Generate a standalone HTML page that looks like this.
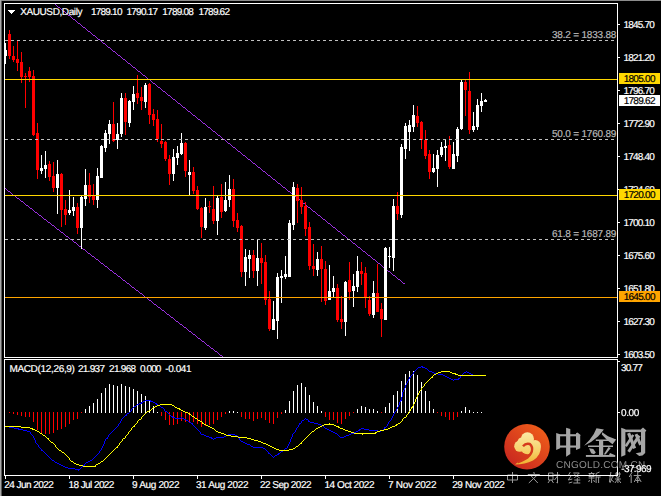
<!DOCTYPE html>
<html><head><meta charset="utf-8"><style>
html,body{margin:0;padding:0;background:#000;width:661px;height:496px;overflow:hidden}
#root{position:relative;width:661px;height:496px;background:#000}
svg.main{position:absolute;left:0;top:0}
.t{position:absolute;font-family:"Liberation Sans",sans-serif;font-size:10px;line-height:14px;color:#fff;white-space:nowrap;letter-spacing:-0.4px;-webkit-text-stroke:0.2px currentColor;text-rendering:geometricPrecision}
.fib{color:#b8b8b8}
.tb{position:absolute;font-family:"Liberation Sans",sans-serif;font-size:10px;line-height:14px;color:#000;white-space:nowrap;-webkit-text-stroke:0.2px currentColor;text-rendering:geometricPrecision}
.box{position:absolute;font-family:"Liberation Sans",sans-serif;font-size:10px;line-height:14px;height:11px;width:41px;text-indent:3px;white-space:nowrap;letter-spacing:-0.4px}
</style></head><body><div id="root">
<svg class="main" width="661" height="496" viewBox="0 0 661 496" shape-rendering="crispEdges"><rect x="0" y="0" width="661" height="1" fill="#8c8c8c"/><rect x="0" y="0" width="1" height="496" fill="#a8a8a8"/><rect x="1" y="1" width="1" height="495" fill="#5a5a5a"/><svg x="5" y="4" width="612" height="353" viewBox="5 4 612 353" overflow="hidden"><path d="M0 -39h1v1h-1zM1 -38h1v1h-1zM2 -37h1v1h-1zM3 -36h2v1h-2zM5 -35h1v1h-1zM6 -34h1v1h-1zM7 -33h1v1h-1zM8 -32h2v1h-2zM10 -31h1v1h-1zM11 -30h1v1h-1zM12 -29h1v1h-1zM13 -28h2v1h-2zM15 -27h1v1h-1zM16 -26h1v1h-1zM17 -25h1v1h-1zM18 -24h2v1h-2zM20 -23h1v1h-1zM21 -22h1v1h-1zM22 -21h1v1h-1zM23 -20h2v1h-2zM25 -19h1v1h-1zM26 -18h1v1h-1zM27 -17h1v1h-1zM28 -16h2v1h-2zM30 -15h1v1h-1zM31 -14h1v1h-1zM32 -13h1v1h-1zM33 -12h2v1h-2zM35 -11h1v1h-1zM36 -10h1v1h-1zM37 -9h1v1h-1zM38 -8h2v1h-2zM40 -7h1v1h-1zM41 -6h1v1h-1zM42 -5h1v1h-1zM43 -4h2v1h-2zM45 -3h1v1h-1zM46 -2h1v1h-1zM47 -1h1v1h-1zM48 0h3v1h-3zM51 1h1v1h-1zM52 2h1v1h-1zM53 3h2v1h-2zM55 4h1v1h-1zM56 5h1v1h-1zM57 6h1v1h-1zM58 7h2v1h-2zM60 8h1v1h-1zM61 9h1v1h-1zM62 10h1v1h-1zM63 11h2v1h-2zM65 12h1v1h-1zM66 13h1v1h-1zM67 14h1v1h-1zM68 15h2v1h-2zM70 16h1v1h-1zM71 17h1v1h-1zM72 18h1v1h-1zM73 19h2v1h-2zM75 20h1v1h-1zM76 21h1v1h-1zM77 22h1v1h-1zM78 23h2v1h-2zM80 24h1v1h-1zM81 25h1v1h-1zM82 26h1v1h-1zM83 27h2v1h-2zM85 28h1v1h-1zM86 29h1v1h-1zM87 30h1v1h-1zM88 31h2v1h-2zM90 32h1v1h-1zM91 33h1v1h-1zM92 34h1v1h-1zM93 35h2v1h-2zM95 36h1v1h-1zM96 37h1v1h-1zM97 38h1v1h-1zM98 39h2v1h-2zM100 40h1v1h-1zM101 41h1v1h-1zM102 42h1v1h-1zM103 43h2v1h-2zM105 44h1v1h-1zM106 45h1v1h-1zM107 46h1v1h-1zM108 47h2v1h-2zM110 48h1v1h-1zM111 49h1v1h-1zM112 50h1v1h-1zM113 51h2v1h-2zM115 52h1v1h-1zM116 53h1v1h-1zM117 54h1v1h-1zM118 55h2v1h-2zM120 56h1v1h-1zM121 57h1v1h-1zM122 58h1v1h-1zM123 59h2v1h-2zM125 60h1v1h-1zM126 61h1v1h-1zM127 62h1v1h-1zM128 63h2v1h-2zM130 64h1v1h-1zM131 65h1v1h-1zM132 66h1v1h-1zM133 67h2v1h-2zM135 68h1v1h-1zM136 69h1v1h-1zM137 70h1v1h-1zM138 71h2v1h-2zM140 72h1v1h-1zM141 73h1v1h-1zM142 74h1v1h-1zM143 75h2v1h-2zM145 76h1v1h-1zM146 77h1v1h-1zM147 78h1v1h-1zM148 79h2v1h-2zM150 80h1v1h-1zM151 81h1v1h-1zM152 82h1v1h-1zM153 83h2v1h-2zM155 84h1v1h-1zM156 85h1v1h-1zM157 86h1v1h-1zM158 87h2v1h-2zM160 88h1v1h-1zM161 89h1v1h-1zM162 90h1v1h-1zM163 91h2v1h-2zM165 92h1v1h-1zM166 93h1v1h-1zM167 94h1v1h-1zM168 95h2v1h-2zM170 96h1v1h-1zM171 97h1v1h-1zM172 98h1v1h-1zM173 99h2v1h-2zM175 100h1v1h-1zM176 101h1v1h-1zM177 102h1v1h-1zM178 103h2v1h-2zM180 104h1v1h-1zM181 105h1v1h-1zM182 106h1v1h-1zM183 107h2v1h-2zM185 108h1v1h-1zM186 109h1v1h-1zM187 110h1v1h-1zM188 111h2v1h-2zM190 112h1v1h-1zM191 113h1v1h-1zM192 114h1v1h-1zM193 115h2v1h-2zM195 116h1v1h-1zM196 117h1v1h-1zM197 118h1v1h-1zM198 119h2v1h-2zM200 120h1v1h-1zM201 121h1v1h-1zM202 122h1v1h-1zM203 123h2v1h-2zM205 124h1v1h-1zM206 125h1v1h-1zM207 126h1v1h-1zM208 127h2v1h-2zM210 128h1v1h-1zM211 129h1v1h-1zM212 130h1v1h-1zM213 131h2v1h-2zM215 132h1v1h-1zM216 133h1v1h-1zM217 134h1v1h-1zM218 135h2v1h-2zM220 136h1v1h-1zM221 137h1v1h-1zM222 138h1v1h-1zM223 139h2v1h-2zM225 140h1v1h-1zM226 141h1v1h-1zM227 142h1v1h-1zM228 143h2v1h-2zM230 144h1v1h-1zM231 145h1v1h-1zM232 146h1v1h-1zM233 147h2v1h-2zM235 148h1v1h-1zM236 149h1v1h-1zM237 150h1v1h-1zM238 151h2v1h-2zM240 152h1v1h-1zM241 153h1v1h-1zM242 154h1v1h-1zM243 155h2v1h-2zM245 156h1v1h-1zM246 157h1v1h-1zM247 158h1v1h-1zM248 159h2v1h-2zM250 160h1v1h-1zM251 161h1v1h-1zM252 162h1v1h-1zM253 163h2v1h-2zM255 164h1v1h-1zM256 165h1v1h-1zM257 166h1v1h-1zM258 167h2v1h-2zM260 168h1v1h-1zM261 169h1v1h-1zM262 170h1v1h-1zM263 171h2v1h-2zM265 172h1v1h-1zM266 173h1v1h-1zM267 174h1v1h-1zM268 175h2v1h-2zM270 176h1v1h-1zM271 177h1v1h-1zM272 178h1v1h-1zM273 179h2v1h-2zM275 180h1v1h-1zM276 181h1v1h-1zM277 182h1v1h-1zM278 183h2v1h-2zM280 184h1v1h-1zM281 185h1v1h-1zM282 186h1v1h-1zM283 187h2v1h-2zM285 188h1v1h-1zM286 189h1v1h-1zM287 190h1v1h-1zM288 191h2v1h-2zM290 192h1v1h-1zM291 193h1v1h-1zM292 194h1v1h-1zM293 195h2v1h-2zM295 196h1v1h-1zM296 197h1v1h-1zM297 198h1v1h-1zM298 199h2v1h-2zM300 200h1v1h-1zM301 201h1v1h-1zM302 202h1v1h-1zM303 203h2v1h-2zM305 204h1v1h-1zM306 205h1v1h-1zM307 206h1v1h-1zM308 207h2v1h-2zM310 208h1v1h-1zM311 209h1v1h-1zM312 210h1v1h-1zM313 211h2v1h-2zM315 212h1v1h-1zM316 213h1v1h-1zM317 214h1v1h-1zM318 215h2v1h-2zM320 216h1v1h-1zM321 217h1v1h-1zM322 218h1v1h-1zM323 219h2v1h-2zM325 220h1v1h-1zM326 221h1v1h-1zM327 222h1v1h-1zM328 223h2v1h-2zM330 224h1v1h-1zM331 225h1v1h-1zM332 226h1v1h-1zM333 227h2v1h-2zM335 228h1v1h-1zM336 229h1v1h-1zM337 230h1v1h-1zM338 231h2v1h-2zM340 232h1v1h-1zM341 233h1v1h-1zM342 234h1v1h-1zM343 235h2v1h-2zM345 236h1v1h-1zM346 237h1v1h-1zM347 238h1v1h-1zM348 239h2v1h-2zM350 240h1v1h-1zM351 241h1v1h-1zM352 242h1v1h-1zM353 243h2v1h-2zM355 244h1v1h-1zM356 245h1v1h-1zM357 246h1v1h-1zM358 247h2v1h-2zM360 248h1v1h-1zM361 249h1v1h-1zM362 250h1v1h-1zM363 251h2v1h-2zM365 252h1v1h-1zM366 253h1v1h-1zM367 254h1v1h-1zM368 255h2v1h-2zM370 256h1v1h-1zM371 257h1v1h-1zM372 258h1v1h-1zM373 259h2v1h-2zM375 260h1v1h-1zM376 261h1v1h-1zM377 262h1v1h-1zM378 263h2v1h-2zM380 264h1v1h-1zM381 265h1v1h-1zM382 266h1v1h-1zM383 267h2v1h-2zM385 268h1v1h-1zM386 269h1v1h-1zM387 270h1v1h-1zM388 271h2v1h-2zM390 272h1v1h-1zM391 273h1v1h-1zM392 274h1v1h-1zM393 275h2v1h-2zM395 276h1v1h-1zM396 277h1v1h-1zM397 278h1v1h-1zM398 279h2v1h-2zM400 280h1v1h-1zM401 281h1v1h-1zM402 282h1v1h-1zM403 283h2v1h-2zM0 184h1v1h-1zM1 185h1v1h-1zM2 186h1v1h-1zM3 187h1v1h-1zM4 188h2v1h-2zM6 189h1v1h-1zM7 190h1v1h-1zM8 191h2v1h-2zM10 192h1v1h-1zM11 193h1v1h-1zM12 194h1v1h-1zM13 195h2v1h-2zM15 196h1v1h-1zM16 197h1v1h-1zM17 198h2v1h-2zM19 199h1v1h-1zM20 200h1v1h-1zM21 201h2v1h-2zM23 202h1v1h-1zM24 203h1v1h-1zM25 204h1v1h-1zM26 205h2v1h-2zM28 206h1v1h-1zM29 207h1v1h-1zM30 208h2v1h-2zM32 209h1v1h-1zM33 210h1v1h-1zM34 211h1v1h-1zM35 212h2v1h-2zM37 213h1v1h-1zM38 214h1v1h-1zM39 215h2v1h-2zM41 216h1v1h-1zM42 217h1v1h-1zM43 218h1v1h-1zM44 219h2v1h-2zM46 220h1v1h-1zM47 221h1v1h-1zM48 222h2v1h-2zM50 223h1v1h-1zM51 224h1v1h-1zM52 225h2v1h-2zM54 226h1v1h-1zM55 227h1v1h-1zM56 228h1v1h-1zM57 229h2v1h-2zM59 230h1v1h-1zM60 231h1v1h-1zM61 232h2v1h-2zM63 233h1v1h-1zM64 234h1v1h-1zM65 235h1v1h-1zM66 236h2v1h-2zM68 237h1v1h-1zM69 238h1v1h-1zM70 239h2v1h-2zM72 240h1v1h-1zM73 241h1v1h-1zM74 242h2v1h-2zM76 243h1v1h-1zM77 244h1v1h-1zM78 245h1v1h-1zM79 246h2v1h-2zM81 247h1v1h-1zM82 248h1v1h-1zM83 249h2v1h-2zM85 250h1v1h-1zM86 251h1v1h-1zM87 252h1v1h-1zM88 253h2v1h-2zM90 254h1v1h-1zM91 255h1v1h-1zM92 256h2v1h-2zM94 257h1v1h-1zM95 258h1v1h-1zM96 259h2v1h-2zM98 260h1v1h-1zM99 261h1v1h-1zM100 262h1v1h-1zM101 263h2v1h-2zM103 264h1v1h-1zM104 265h1v1h-1zM105 266h2v1h-2zM107 267h1v1h-1zM108 268h1v1h-1zM109 269h1v1h-1zM110 270h2v1h-2zM112 271h1v1h-1zM113 272h1v1h-1zM114 273h2v1h-2zM116 274h1v1h-1zM117 275h1v1h-1zM118 276h2v1h-2zM120 277h1v1h-1zM121 278h1v1h-1zM122 279h1v1h-1zM123 280h2v1h-2zM125 281h1v1h-1zM126 282h1v1h-1zM127 283h2v1h-2zM129 284h1v1h-1zM130 285h1v1h-1zM131 286h1v1h-1zM132 287h2v1h-2zM134 288h1v1h-1zM135 289h1v1h-1zM136 290h2v1h-2zM138 291h1v1h-1zM139 292h1v1h-1zM140 293h2v1h-2zM142 294h1v1h-1zM143 295h1v1h-1zM144 296h1v1h-1zM145 297h2v1h-2zM147 298h1v1h-1zM148 299h1v1h-1zM149 300h2v1h-2zM151 301h1v1h-1zM152 302h1v1h-1zM153 303h1v1h-1zM154 304h2v1h-2zM156 305h1v1h-1zM157 306h1v1h-1zM158 307h2v1h-2zM160 308h1v1h-1zM161 309h1v1h-1zM162 310h2v1h-2zM164 311h1v1h-1zM165 312h1v1h-1zM166 313h1v1h-1zM167 314h2v1h-2zM169 315h1v1h-1zM170 316h1v1h-1zM171 317h2v1h-2zM173 318h1v1h-1zM174 319h1v1h-1zM175 320h1v1h-1zM176 321h2v1h-2zM178 322h1v1h-1zM179 323h1v1h-1zM180 324h2v1h-2zM182 325h1v1h-1zM183 326h1v1h-1zM184 327h2v1h-2zM186 328h1v1h-1zM187 329h1v1h-1zM188 330h1v1h-1zM189 331h2v1h-2zM191 332h1v1h-1zM192 333h1v1h-1zM193 334h2v1h-2zM195 335h1v1h-1zM196 336h1v1h-1zM197 337h1v1h-1zM198 338h2v1h-2zM200 339h1v1h-1zM201 340h1v1h-1zM202 341h2v1h-2zM204 342h1v1h-1zM205 343h1v1h-1zM206 344h1v1h-1zM207 345h2v1h-2zM209 346h1v1h-1zM210 347h1v1h-1zM211 348h2v1h-2zM213 349h1v1h-1zM214 350h1v1h-1zM215 351h2v1h-2zM217 352h1v1h-1zM218 353h1v1h-1zM219 354h1v1h-1zM220 355h2v1h-2zM222 356h1v1h-1zM223 357h1v1h-1zM224 358h2v1h-2zM226 359h1v1h-1zM227 360h1v1h-1zM228 361h1v1h-1zM229 362h2v1h-2zM231 363h1v1h-1zM232 364h1v1h-1zM233 365h2v1h-2zM235 366h1v1h-1zM236 367h1v1h-1zM237 368h2v1h-2zM239 369h1v1h-1z" fill="#9b30e0"/><rect x="5" y="43" width="1" height="21" fill="#ffffff"/><rect x="4" y="50" width="3" height="6" fill="#ffffff"/><rect x="9" y="30" width="1" height="29" fill="#ff0000"/><rect x="8" y="34" width="3" height="22" fill="#ff0000"/><rect x="13" y="46" width="1" height="16" fill="#ff0000"/><rect x="12" y="56" width="3" height="4" fill="#ff0000"/><rect x="17" y="41" width="1" height="30" fill="#ff0000"/><rect x="16" y="59" width="3" height="4" fill="#ff0000"/><rect x="21" y="52" width="1" height="31" fill="#ff0000"/><rect x="20" y="62" width="3" height="15" fill="#ff0000"/><rect x="25" y="73" width="1" height="35" fill="#ff0000"/><rect x="24" y="76" width="3" height="1" fill="#ff0000"/><rect x="29" y="67" width="1" height="15" fill="#ff0000"/><rect x="28" y="71" width="3" height="6" fill="#ff0000"/><rect x="33" y="70" width="1" height="66" fill="#ff0000"/><rect x="32" y="76" width="3" height="59" fill="#ff0000"/><rect x="37" y="123" width="1" height="56" fill="#ff0000"/><rect x="36" y="133" width="3" height="37" fill="#ff0000"/><rect x="41" y="155" width="1" height="19" fill="#ffffff"/><rect x="40" y="168" width="3" height="3" fill="#ffffff"/><rect x="45" y="151" width="1" height="27" fill="#ffffff"/><rect x="44" y="165" width="3" height="4" fill="#ffffff"/><rect x="49" y="161" width="1" height="20" fill="#ff0000"/><rect x="48" y="164" width="3" height="13" fill="#ff0000"/><rect x="53" y="162" width="1" height="30" fill="#ff0000"/><rect x="52" y="176" width="3" height="12" fill="#ff0000"/><rect x="57" y="160" width="1" height="54" fill="#ffffff"/><rect x="56" y="174" width="3" height="14" fill="#ffffff"/><rect x="61" y="173" width="1" height="54" fill="#ff0000"/><rect x="60" y="174" width="3" height="36" fill="#ff0000"/><rect x="65" y="200" width="1" height="25" fill="#ff0000"/><rect x="64" y="209" width="3" height="6" fill="#ff0000"/><rect x="69" y="190" width="1" height="25" fill="#ffffff"/><rect x="68" y="210" width="3" height="3" fill="#ffffff"/><rect x="73" y="197" width="1" height="19" fill="#ffffff"/><rect x="72" y="207" width="3" height="4" fill="#ffffff"/><rect x="77" y="203" width="1" height="31" fill="#ff0000"/><rect x="76" y="207" width="3" height="21" fill="#ff0000"/><rect x="81" y="196" width="1" height="53" fill="#ffffff"/><rect x="80" y="197" width="3" height="31" fill="#ffffff"/><rect x="85" y="169" width="1" height="37" fill="#ffffff"/><rect x="84" y="185" width="3" height="14" fill="#ffffff"/><rect x="89" y="173" width="1" height="30" fill="#ff0000"/><rect x="88" y="185" width="3" height="12" fill="#ff0000"/><rect x="93" y="184" width="1" height="21" fill="#ff0000"/><rect x="92" y="196" width="3" height="4" fill="#ff0000"/><rect x="97" y="168" width="1" height="40" fill="#ffffff"/><rect x="96" y="176" width="3" height="24" fill="#ffffff"/><rect x="101" y="145" width="1" height="33" fill="#ffffff"/><rect x="100" y="146" width="3" height="32" fill="#ffffff"/><rect x="105" y="130" width="1" height="22" fill="#ffffff"/><rect x="104" y="133" width="3" height="15" fill="#ffffff"/><rect x="109" y="120" width="1" height="24" fill="#ffffff"/><rect x="108" y="124" width="3" height="10" fill="#ffffff"/><rect x="113" y="102" width="1" height="40" fill="#ff0000"/><rect x="112" y="124" width="3" height="17" fill="#ff0000"/><rect x="117" y="123" width="1" height="26" fill="#ffffff"/><rect x="116" y="134" width="3" height="6" fill="#ffffff"/><rect x="121" y="93" width="1" height="44" fill="#ffffff"/><rect x="120" y="98" width="3" height="36" fill="#ffffff"/><rect x="125" y="93" width="1" height="42" fill="#ff0000"/><rect x="124" y="98" width="3" height="24" fill="#ff0000"/><rect x="129" y="100" width="1" height="27" fill="#ffffff"/><rect x="128" y="101" width="3" height="22" fill="#ffffff"/><rect x="133" y="86" width="1" height="24" fill="#ffffff"/><rect x="132" y="94" width="3" height="8" fill="#ffffff"/><rect x="137" y="75" width="1" height="29" fill="#ff0000"/><rect x="136" y="93" width="3" height="5" fill="#ff0000"/><rect x="141" y="87" width="1" height="23" fill="#ff0000"/><rect x="140" y="97" width="3" height="4" fill="#ff0000"/><rect x="145" y="83" width="1" height="25" fill="#ffffff"/><rect x="144" y="85" width="3" height="17" fill="#ffffff"/><rect x="149" y="83" width="1" height="41" fill="#ff0000"/><rect x="148" y="84" width="3" height="31" fill="#ff0000"/><rect x="153" y="109" width="1" height="17" fill="#ff0000"/><rect x="152" y="114" width="3" height="6" fill="#ff0000"/><rect x="157" y="110" width="1" height="32" fill="#ff0000"/><rect x="156" y="119" width="3" height="20" fill="#ff0000"/><rect x="161" y="124" width="1" height="24" fill="#ff0000"/><rect x="160" y="141" width="3" height="3" fill="#ff0000"/><rect x="165" y="141" width="1" height="20" fill="#ff0000"/><rect x="164" y="142" width="3" height="17" fill="#ff0000"/><rect x="169" y="155" width="1" height="30" fill="#ff0000"/><rect x="168" y="159" width="3" height="15" fill="#ff0000"/><rect x="173" y="149" width="1" height="32" fill="#ffffff"/><rect x="172" y="157" width="3" height="17" fill="#ffffff"/><rect x="177" y="146" width="1" height="19" fill="#ffffff"/><rect x="176" y="153" width="3" height="5" fill="#ffffff"/><rect x="181" y="133" width="1" height="22" fill="#ffffff"/><rect x="180" y="143" width="3" height="11" fill="#ffffff"/><rect x="185" y="142" width="1" height="35" fill="#ff0000"/><rect x="184" y="143" width="3" height="28" fill="#ff0000"/><rect x="189" y="160" width="1" height="35" fill="#ffffff"/><rect x="188" y="172" width="3" height="3" fill="#ffffff"/><rect x="193" y="167" width="1" height="27" fill="#ff0000"/><rect x="192" y="172" width="3" height="19" fill="#ff0000"/><rect x="197" y="186" width="1" height="24" fill="#ff0000"/><rect x="196" y="190" width="3" height="19" fill="#ff0000"/><rect x="201" y="207" width="1" height="31" fill="#ff0000"/><rect x="200" y="208" width="3" height="19" fill="#ff0000"/><rect x="205" y="198" width="1" height="32" fill="#ffffff"/><rect x="204" y="207" width="3" height="21" fill="#ffffff"/><rect x="209" y="201" width="1" height="12" fill="#ff0000"/><rect x="208" y="206" width="3" height="1" fill="#ff0000"/><rect x="213" y="186" width="1" height="38" fill="#ff0000"/><rect x="212" y="209" width="3" height="12" fill="#ff0000"/><rect x="217" y="196" width="1" height="39" fill="#ffffff"/><rect x="216" y="198" width="3" height="23" fill="#ffffff"/><rect x="221" y="184" width="1" height="34" fill="#ff0000"/><rect x="220" y="197" width="3" height="15" fill="#ff0000"/><rect x="225" y="182" width="1" height="30" fill="#ffffff"/><rect x="224" y="200" width="3" height="11" fill="#ffffff"/><rect x="229" y="175" width="1" height="32" fill="#ffffff"/><rect x="228" y="189" width="3" height="11" fill="#ffffff"/><rect x="233" y="179" width="1" height="48" fill="#ff0000"/><rect x="232" y="189" width="3" height="32" fill="#ff0000"/><rect x="237" y="213" width="1" height="19" fill="#ff0000"/><rect x="236" y="220" width="3" height="8" fill="#ff0000"/><rect x="241" y="225" width="1" height="52" fill="#ff0000"/><rect x="240" y="226" width="3" height="46" fill="#ff0000"/><rect x="245" y="249" width="1" height="37" fill="#ffffff"/><rect x="244" y="257" width="3" height="15" fill="#ffffff"/><rect x="249" y="250" width="1" height="28" fill="#ffffff"/><rect x="248" y="255" width="3" height="4" fill="#ffffff"/><rect x="253" y="250" width="1" height="28" fill="#ff0000"/><rect x="252" y="255" width="3" height="16" fill="#ff0000"/><rect x="257" y="239" width="1" height="47" fill="#ffffff"/><rect x="256" y="258" width="3" height="13" fill="#ffffff"/><rect x="261" y="243" width="1" height="41" fill="#ff0000"/><rect x="260" y="258" width="3" height="5" fill="#ff0000"/><rect x="265" y="255" width="1" height="50" fill="#ff0000"/><rect x="264" y="262" width="3" height="38" fill="#ff0000"/><rect x="269" y="291" width="1" height="40" fill="#ff0000"/><rect x="268" y="299" width="3" height="30" fill="#ff0000"/><rect x="273" y="301" width="1" height="29" fill="#ffffff"/><rect x="272" y="319" width="3" height="11" fill="#ffffff"/><rect x="277" y="273" width="1" height="66" fill="#ffffff"/><rect x="276" y="277" width="3" height="44" fill="#ffffff"/><rect x="281" y="270" width="1" height="33" fill="#ffffff"/><rect x="280" y="276" width="3" height="2" fill="#ffffff"/><rect x="285" y="256" width="1" height="23" fill="#ffffff"/><rect x="284" y="274" width="3" height="3" fill="#ffffff"/><rect x="289" y="220" width="1" height="57" fill="#ffffff"/><rect x="288" y="223" width="3" height="54" fill="#ffffff"/><rect x="293" y="182" width="1" height="48" fill="#ffffff"/><rect x="292" y="187" width="3" height="38" fill="#ffffff"/><rect x="297" y="184" width="1" height="39" fill="#ff0000"/><rect x="296" y="188" width="3" height="13" fill="#ff0000"/><rect x="301" y="187" width="1" height="27" fill="#ff0000"/><rect x="300" y="200" width="3" height="7" fill="#ff0000"/><rect x="305" y="202" width="1" height="34" fill="#ff0000"/><rect x="304" y="206" width="3" height="23" fill="#ff0000"/><rect x="309" y="222" width="1" height="48" fill="#ff0000"/><rect x="308" y="227" width="3" height="39" fill="#ff0000"/><rect x="313" y="244" width="1" height="32" fill="#ff0000"/><rect x="312" y="266" width="3" height="3" fill="#ff0000"/><rect x="317" y="252" width="1" height="24" fill="#ffffff"/><rect x="316" y="259" width="3" height="11" fill="#ffffff"/><rect x="321" y="246" width="1" height="56" fill="#ff0000"/><rect x="320" y="259" width="3" height="10" fill="#ff0000"/><rect x="325" y="261" width="1" height="44" fill="#ff0000"/><rect x="324" y="269" width="3" height="32" fill="#ff0000"/><rect x="329" y="265" width="1" height="35" fill="#ffffff"/><rect x="328" y="291" width="3" height="9" fill="#ffffff"/><rect x="333" y="276" width="1" height="21" fill="#ffffff"/><rect x="332" y="288" width="3" height="4" fill="#ffffff"/><rect x="337" y="284" width="1" height="38" fill="#ff0000"/><rect x="336" y="288" width="3" height="32" fill="#ff0000"/><rect x="341" y="296" width="1" height="33" fill="#ff0000"/><rect x="340" y="319" width="3" height="3" fill="#ff0000"/><rect x="345" y="281" width="1" height="55" fill="#ffffff"/><rect x="344" y="282" width="3" height="40" fill="#ffffff"/><rect x="349" y="262" width="1" height="38" fill="#ff0000"/><rect x="348" y="280" width="3" height="12" fill="#ff0000"/><rect x="353" y="274" width="1" height="33" fill="#ffffff"/><rect x="352" y="286" width="3" height="5" fill="#ffffff"/><rect x="357" y="256" width="1" height="36" fill="#ffffff"/><rect x="356" y="271" width="3" height="16" fill="#ffffff"/><rect x="361" y="262" width="1" height="23" fill="#ff0000"/><rect x="360" y="271" width="3" height="3" fill="#ff0000"/><rect x="365" y="267" width="1" height="41" fill="#ff0000"/><rect x="364" y="273" width="3" height="24" fill="#ff0000"/><rect x="369" y="296" width="1" height="20" fill="#ff0000"/><rect x="368" y="300" width="3" height="14" fill="#ff0000"/><rect x="373" y="281" width="1" height="37" fill="#ffffff"/><rect x="372" y="293" width="3" height="22" fill="#ffffff"/><rect x="377" y="264" width="1" height="48" fill="#ff0000"/><rect x="376" y="293" width="3" height="19" fill="#ff0000"/><rect x="381" y="303" width="1" height="34" fill="#ff0000"/><rect x="380" y="309" width="3" height="10" fill="#ff0000"/><rect x="385" y="247" width="1" height="73" fill="#ffffff"/><rect x="384" y="248" width="3" height="72" fill="#ffffff"/><rect x="389" y="247" width="1" height="21" fill="#ffffff"/><rect x="388" y="256" width="3" height="1" fill="#ffffff"/><rect x="393" y="199" width="1" height="72" fill="#ffffff"/><rect x="392" y="206" width="3" height="52" fill="#ffffff"/><rect x="397" y="192" width="1" height="28" fill="#ff0000"/><rect x="396" y="206" width="3" height="8" fill="#ff0000"/><rect x="401" y="144" width="1" height="74" fill="#ffffff"/><rect x="400" y="147" width="3" height="68" fill="#ffffff"/><rect x="405" y="123" width="1" height="36" fill="#ffffff"/><rect x="404" y="126" width="3" height="23" fill="#ffffff"/><rect x="409" y="120" width="1" height="31" fill="#ffffff"/><rect x="408" y="125" width="3" height="7" fill="#ffffff"/><rect x="413" y="105" width="1" height="27" fill="#ffffff"/><rect x="412" y="115" width="3" height="12" fill="#ffffff"/><rect x="417" y="106" width="1" height="21" fill="#ff0000"/><rect x="416" y="116" width="3" height="7" fill="#ff0000"/><rect x="421" y="121" width="1" height="28" fill="#ff0000"/><rect x="420" y="122" width="3" height="18" fill="#ff0000"/><rect x="425" y="130" width="1" height="29" fill="#ff0000"/><rect x="424" y="140" width="3" height="16" fill="#ff0000"/><rect x="429" y="150" width="1" height="29" fill="#ff0000"/><rect x="428" y="154" width="3" height="18" fill="#ff0000"/><rect x="433" y="154" width="1" height="19" fill="#ffffff"/><rect x="432" y="168" width="3" height="4" fill="#ffffff"/><rect x="437" y="150" width="1" height="37" fill="#ffffff"/><rect x="436" y="155" width="3" height="14" fill="#ffffff"/><rect x="441" y="142" width="1" height="15" fill="#ffffff"/><rect x="440" y="147" width="3" height="8" fill="#ffffff"/><rect x="445" y="139" width="1" height="22" fill="#ffffff"/><rect x="444" y="146" width="3" height="2" fill="#ffffff"/><rect x="449" y="136" width="1" height="33" fill="#ff0000"/><rect x="448" y="145" width="3" height="22" fill="#ff0000"/><rect x="453" y="142" width="1" height="27" fill="#ffffff"/><rect x="452" y="154" width="3" height="15" fill="#ffffff"/><rect x="457" y="127" width="1" height="35" fill="#ffffff"/><rect x="456" y="129" width="3" height="27" fill="#ffffff"/><rect x="461" y="80" width="1" height="50" fill="#ffffff"/><rect x="460" y="82" width="3" height="47" fill="#ffffff"/><rect x="465" y="80" width="1" height="36" fill="#ff0000"/><rect x="464" y="82" width="3" height="8" fill="#ff0000"/><rect x="469" y="72" width="1" height="62" fill="#ff0000"/><rect x="468" y="91" width="3" height="39" fill="#ff0000"/><rect x="473" y="112" width="1" height="20" fill="#ffffff"/><rect x="472" y="126" width="3" height="4" fill="#ffffff"/><rect x="477" y="99" width="1" height="31" fill="#ffffff"/><rect x="476" y="105" width="3" height="22" fill="#ffffff"/><rect x="481" y="93" width="1" height="19" fill="#ffffff"/><rect x="480" y="101" width="3" height="5" fill="#ffffff"/><rect x="485" y="99" width="1" height="3" fill="#ffffff"/><rect x="484" y="100" width="3" height="2" fill="#ffffff"/><line x1="5" y1="40.5" x2="617" y2="40.5" stroke="#c0c0c0" stroke-width="1" stroke-dasharray="3 3"/><line x1="5" y1="139.5" x2="617" y2="139.5" stroke="#c0c0c0" stroke-width="1" stroke-dasharray="3 3"/><line x1="5" y1="239.5" x2="617" y2="239.5" stroke="#c0c0c0" stroke-width="1" stroke-dasharray="3 3"/><rect x="5" y="79" width="612" height="1" fill="#ffd700"/><rect x="5" y="195" width="612" height="1" fill="#ffd700"/><rect x="5" y="297" width="612" height="1" fill="#ffa500"/></svg><svg x="5" y="360" width="612" height="115" viewBox="5 360 612 115" overflow="hidden"><rect x="9" y="412" width="1" height="1" fill="#ff0000"/><rect x="13" y="412" width="1" height="2" fill="#ff0000"/><rect x="17" y="412" width="1" height="3" fill="#ff0000"/><rect x="21" y="412" width="1" height="4" fill="#ff0000"/><rect x="25" y="412" width="1" height="5" fill="#ff0000"/><rect x="29" y="412" width="1" height="5" fill="#ff0000"/><rect x="33" y="412" width="1" height="10" fill="#ff0000"/><rect x="37" y="412" width="1" height="18" fill="#ff0000"/><rect x="41" y="412" width="1" height="21" fill="#ff0000"/><rect x="45" y="412" width="1" height="22" fill="#ff0000"/><rect x="49" y="412" width="1" height="22" fill="#ff0000"/><rect x="53" y="412" width="1" height="21" fill="#ff0000"/><rect x="57" y="412" width="1" height="18" fill="#ff0000"/><rect x="61" y="412" width="1" height="17" fill="#ff0000"/><rect x="65" y="412" width="1" height="15" fill="#ff0000"/><rect x="69" y="412" width="1" height="12" fill="#ff0000"/><rect x="73" y="412" width="1" height="8" fill="#ff0000"/><rect x="77" y="412" width="1" height="7" fill="#ff0000"/><rect x="81" y="412" width="1" height="1" fill="#ff0000"/><rect x="161" y="412" width="1" height="4" fill="#ff0000"/><rect x="165" y="412" width="1" height="8" fill="#ff0000"/><rect x="169" y="412" width="1" height="13" fill="#ff0000"/><rect x="173" y="412" width="1" height="13" fill="#ff0000"/><rect x="177" y="412" width="1" height="12" fill="#ff0000"/><rect x="181" y="412" width="1" height="9" fill="#ff0000"/><rect x="185" y="412" width="1" height="10" fill="#ff0000"/><rect x="189" y="412" width="1" height="10" fill="#ff0000"/><rect x="193" y="412" width="1" height="10" fill="#ff0000"/><rect x="197" y="412" width="1" height="12" fill="#ff0000"/><rect x="201" y="412" width="1" height="15" fill="#ff0000"/><rect x="205" y="412" width="1" height="14" fill="#ff0000"/><rect x="209" y="412" width="1" height="13" fill="#ff0000"/><rect x="213" y="412" width="1" height="12" fill="#ff0000"/><rect x="217" y="412" width="1" height="8" fill="#ff0000"/><rect x="221" y="412" width="1" height="5" fill="#ff0000"/><rect x="225" y="412" width="1" height="2" fill="#ff0000"/><rect x="241" y="412" width="1" height="5" fill="#ff0000"/><rect x="245" y="412" width="1" height="7" fill="#ff0000"/><rect x="249" y="412" width="1" height="7" fill="#ff0000"/><rect x="253" y="412" width="1" height="9" fill="#ff0000"/><rect x="257" y="412" width="1" height="7" fill="#ff0000"/><rect x="261" y="412" width="1" height="6" fill="#ff0000"/><rect x="265" y="412" width="1" height="8" fill="#ff0000"/><rect x="269" y="412" width="1" height="11" fill="#ff0000"/><rect x="273" y="412" width="1" height="12" fill="#ff0000"/><rect x="277" y="412" width="1" height="6" fill="#ff0000"/><rect x="281" y="412" width="1" height="2" fill="#ff0000"/><rect x="325" y="412" width="1" height="5" fill="#ff0000"/><rect x="329" y="412" width="1" height="8" fill="#ff0000"/><rect x="333" y="412" width="1" height="8" fill="#ff0000"/><rect x="337" y="412" width="1" height="11" fill="#ff0000"/><rect x="341" y="412" width="1" height="12" fill="#ff0000"/><rect x="345" y="412" width="1" height="7" fill="#ff0000"/><rect x="349" y="412" width="1" height="4" fill="#ff0000"/><rect x="353" y="412" width="1" height="1" fill="#ff0000"/><rect x="381" y="412" width="1" height="1" fill="#ff0000"/><rect x="437" y="412" width="1" height="1" fill="#ff0000"/><rect x="441" y="412" width="1" height="4" fill="#ff0000"/><rect x="445" y="412" width="1" height="5" fill="#ff0000"/><rect x="449" y="412" width="1" height="8" fill="#ff0000"/><rect x="453" y="412" width="1" height="8" fill="#ff0000"/><rect x="457" y="412" width="1" height="5" fill="#ff0000"/><rect x="85" y="409" width="1" height="4" fill="#ffffff"/><rect x="89" y="406" width="1" height="7" fill="#ffffff"/><rect x="93" y="403" width="1" height="10" fill="#ffffff"/><rect x="97" y="399" width="1" height="14" fill="#ffffff"/><rect x="101" y="393" width="1" height="20" fill="#ffffff"/><rect x="105" y="388" width="1" height="25" fill="#ffffff"/><rect x="109" y="384" width="1" height="29" fill="#ffffff"/><rect x="113" y="385" width="1" height="28" fill="#ffffff"/><rect x="117" y="386" width="1" height="27" fill="#ffffff"/><rect x="121" y="384" width="1" height="29" fill="#ffffff"/><rect x="125" y="386" width="1" height="27" fill="#ffffff"/><rect x="129" y="387" width="1" height="26" fill="#ffffff"/><rect x="133" y="389" width="1" height="24" fill="#ffffff"/><rect x="137" y="391" width="1" height="22" fill="#ffffff"/><rect x="141" y="394" width="1" height="19" fill="#ffffff"/><rect x="145" y="396" width="1" height="17" fill="#ffffff"/><rect x="149" y="401" width="1" height="12" fill="#ffffff"/><rect x="153" y="406" width="1" height="7" fill="#ffffff"/><rect x="157" y="412" width="1" height="1" fill="#ffffff"/><rect x="229" y="411" width="1" height="2" fill="#ffffff"/><rect x="233" y="411" width="1" height="2" fill="#ffffff"/><rect x="237" y="412" width="1" height="1" fill="#ffffff"/><rect x="285" y="410" width="1" height="3" fill="#ffffff"/><rect x="289" y="401" width="1" height="12" fill="#ffffff"/><rect x="293" y="391" width="1" height="22" fill="#ffffff"/><rect x="297" y="385" width="1" height="28" fill="#ffffff"/><rect x="301" y="383" width="1" height="30" fill="#ffffff"/><rect x="305" y="387" width="1" height="26" fill="#ffffff"/><rect x="309" y="395" width="1" height="18" fill="#ffffff"/><rect x="313" y="402" width="1" height="11" fill="#ffffff"/><rect x="317" y="406" width="1" height="7" fill="#ffffff"/><rect x="321" y="411" width="1" height="2" fill="#ffffff"/><rect x="357" y="409" width="1" height="4" fill="#ffffff"/><rect x="361" y="406" width="1" height="7" fill="#ffffff"/><rect x="365" y="407" width="1" height="6" fill="#ffffff"/><rect x="369" y="409" width="1" height="4" fill="#ffffff"/><rect x="373" y="409" width="1" height="4" fill="#ffffff"/><rect x="377" y="411" width="1" height="2" fill="#ffffff"/><rect x="385" y="407" width="1" height="6" fill="#ffffff"/><rect x="389" y="403" width="1" height="10" fill="#ffffff"/><rect x="393" y="395" width="1" height="18" fill="#ffffff"/><rect x="397" y="391" width="1" height="22" fill="#ffffff"/><rect x="401" y="381" width="1" height="32" fill="#ffffff"/><rect x="405" y="374" width="1" height="39" fill="#ffffff"/><rect x="409" y="371" width="1" height="42" fill="#ffffff"/><rect x="413" y="371" width="1" height="42" fill="#ffffff"/><rect x="417" y="375" width="1" height="38" fill="#ffffff"/><rect x="421" y="382" width="1" height="31" fill="#ffffff"/><rect x="425" y="391" width="1" height="22" fill="#ffffff"/><rect x="429" y="401" width="1" height="12" fill="#ffffff"/><rect x="433" y="409" width="1" height="4" fill="#ffffff"/><rect x="461" y="411" width="1" height="2" fill="#ffffff"/><rect x="465" y="407" width="1" height="6" fill="#ffffff"/><rect x="469" y="410" width="1" height="3" fill="#ffffff"/><rect x="473" y="412" width="1" height="1" fill="#ffffff"/><rect x="477" y="412" width="1" height="1" fill="#ffffff"/><rect x="481" y="412" width="1" height="1" fill="#ffffff"/><path d="M4 426h5v1h-5zM117 426h1v1h-1zM194 426h1v1h-1zM298 426h1v1h-1zM323 426h1v1h-1zM386 426h1v1h-1zM9 427h5v1h-5zM116 427h1v1h-1zM195 427h1v1h-1zM297 427h1v1h-1zM324 427h1v1h-1zM384 427h2v1h-2zM14 428h5v1h-5zM115 428h1v1h-1zM196 428h1v1h-1zM296 428h1v1h-1zM325 428h2v1h-2zM361 428h3v1h-3zM384 428h1v1h-1zM18 429h5v1h-5zM114 429h1v1h-1zM197 429h1v1h-1zM296 429h1v1h-1zM327 429h2v1h-2zM359 429h2v1h-2zM364 429h5v1h-5zM383 429h1v1h-1zM23 430h4v1h-4zM113 430h1v1h-1zM198 430h1v1h-1zM295 430h1v1h-1zM329 430h2v1h-2zM358 430h2v1h-2zM369 430h9v1h-9zM381 430h2v1h-2zM27 431h3v1h-3zM112 431h1v1h-1zM199 431h1v1h-1zM295 431h1v1h-1zM331 431h2v1h-2zM356 431h2v1h-2zM378 431h3v1h-3zM30 432h1v1h-1zM111 432h1v1h-1zM200 432h1v1h-1zM294 432h1v1h-1zM333 432h2v1h-2zM354 432h2v1h-2zM30 433h1v1h-1zM110 433h1v1h-1zM200 433h1v1h-1zM293 433h1v1h-1zM335 433h2v1h-2zM351 433h3v1h-3zM31 434h1v1h-1zM109 434h1v1h-1zM201 434h3v1h-3zM228 434h7v1h-7zM292 434h1v1h-1zM337 434h1v1h-1zM349 434h2v1h-2zM32 435h1v1h-1zM108 435h1v1h-1zM204 435h2v1h-2zM226 435h2v1h-2zM235 435h2v1h-2zM292 435h1v1h-1zM338 435h1v1h-1zM346 435h3v1h-3zM33 436h1v1h-1zM108 436h1v1h-1zM206 436h3v1h-3zM224 436h2v1h-2zM237 436h2v1h-2zM292 436h1v1h-1zM339 436h1v1h-1zM344 436h2v1h-2zM33 437h1v1h-1zM107 437h1v1h-1zM209 437h3v1h-3zM216 437h8v1h-8zM238 437h1v1h-1zM291 437h1v1h-1zM340 437h4v1h-4zM34 438h1v1h-1zM106 438h2v1h-2zM211 438h2v1h-2zM214 438h2v1h-2zM239 438h1v1h-1zM291 438h1v1h-1zM34 439h1v1h-1zM105 439h1v1h-1zM213 439h1v1h-1zM239 439h1v1h-1zM290 439h1v1h-1zM35 440h1v1h-1zM105 440h1v1h-1zM240 440h1v1h-1zM290 440h1v1h-1zM35 441h1v1h-1zM104 441h1v1h-1zM241 441h2v1h-2zM290 441h1v1h-1zM35 442h1v1h-1zM104 442h1v1h-1zM243 442h2v1h-2zM289 442h1v1h-1zM36 443h1v1h-1zM104 443h1v1h-1zM245 443h2v1h-2zM289 443h1v1h-1zM37 444h1v1h-1zM103 444h1v1h-1zM247 444h3v1h-3zM288 444h1v1h-1zM38 445h1v1h-1zM103 445h1v1h-1zM250 445h1v1h-1zM288 445h1v1h-1zM38 446h1v1h-1zM102 446h1v1h-1zM251 446h2v1h-2zM287 446h1v1h-1zM39 447h1v1h-1zM102 447h1v1h-1zM253 447h10v1h-10zM287 447h1v1h-1zM40 448h1v1h-1zM101 448h1v1h-1zM263 448h2v1h-2zM285 448h2v1h-2zM41 449h1v1h-1zM101 449h1v1h-1zM265 449h1v1h-1zM284 449h1v1h-1zM41 450h2v1h-2zM100 450h1v1h-1zM266 450h1v1h-1zM283 450h1v1h-1zM43 451h1v1h-1zM99 451h1v1h-1zM267 451h1v1h-1zM281 451h2v1h-2zM44 452h1v1h-1zM99 452h1v1h-1zM268 452h1v1h-1zM280 452h1v1h-1zM45 453h1v1h-1zM98 453h1v1h-1zM268 453h2v1h-2zM278 453h2v1h-2zM46 454h1v1h-1zM97 454h1v1h-1zM270 454h1v1h-1zM277 454h2v1h-2zM47 455h1v1h-1zM96 455h1v1h-1zM271 455h1v1h-1zM275 455h2v1h-2zM48 456h1v1h-1zM95 456h1v1h-1zM272 456h1v1h-1zM274 456h1v1h-1zM49 457h1v1h-1zM94 457h1v1h-1zM273 457h1v1h-1zM50 458h1v1h-1zM93 458h1v1h-1zM51 459h1v1h-1zM92 459h1v1h-1zM52 460h2v1h-2zM90 460h2v1h-2zM54 461h1v1h-1zM88 461h2v1h-2zM55 462h2v1h-2zM86 462h2v1h-2zM57 463h2v1h-2zM85 463h1v1h-1zM59 464h2v1h-2zM84 464h1v1h-1zM61 465h2v1h-2zM83 465h2v1h-2zM63 466h2v1h-2zM82 466h1v1h-1zM65 467h3v1h-3zM81 467h1v1h-1zM68 468h7v1h-7zM80 468h1v1h-1zM75 469h5v1h-5zM78 470h1v1h-1zM118 425h1v1h-1zM193 425h1v1h-1zM298 425h1v1h-1zM321 425h2v1h-2zM387 425h1v1h-1zM118 424h1v1h-1zM192 424h1v1h-1zM299 424h1v1h-1zM318 424h3v1h-3zM387 424h1v1h-1zM119 423h1v1h-1zM191 423h2v1h-2zM299 423h2v1h-2zM314 423h4v1h-4zM388 423h1v1h-1zM120 422h1v1h-1zM189 422h2v1h-2zM301 422h1v1h-1zM310 422h4v1h-4zM388 422h1v1h-1zM120 421h1v1h-1zM188 421h1v1h-1zM301 421h1v1h-1zM308 421h2v1h-2zM389 421h1v1h-1zM121 420h1v1h-1zM186 420h2v1h-2zM302 420h2v1h-2zM308 420h1v1h-1zM390 420h1v1h-1zM121 419h1v1h-1zM184 419h2v1h-2zM304 419h1v1h-1zM306 419h2v1h-2zM391 419h1v1h-1zM122 418h1v1h-1zM175 418h6v1h-6zM182 418h2v1h-2zM305 418h1v1h-1zM391 418h1v1h-1zM123 417h1v1h-1zM172 417h3v1h-3zM181 417h1v1h-1zM392 417h1v1h-1zM124 416h1v1h-1zM171 416h2v1h-2zM392 416h1v1h-1zM125 415h2v1h-2zM170 415h1v1h-1zM393 415h1v1h-1zM126 414h1v1h-1zM169 414h1v1h-1zM393 414h1v1h-1zM127 413h2v1h-2zM168 413h1v1h-1zM394 413h1v1h-1zM129 412h1v1h-1zM167 412h1v1h-1zM394 412h1v1h-1zM130 411h1v1h-1zM165 411h2v1h-2zM395 411h1v1h-1zM131 410h1v1h-1zM164 410h1v1h-1zM396 410h1v1h-1zM131 409h1v1h-1zM164 409h1v1h-1zM396 409h1v1h-1zM132 408h1v1h-1zM163 408h1v1h-1zM397 408h1v1h-1zM133 407h1v1h-1zM161 407h2v1h-2zM397 407h1v1h-1zM134 406h2v1h-2zM160 406h1v1h-1zM398 406h1v1h-1zM136 405h1v1h-1zM158 405h2v1h-2zM398 405h1v1h-1zM137 404h2v1h-2zM156 404h2v1h-2zM399 404h1v1h-1zM139 403h3v1h-3zM155 403h2v1h-2zM399 403h1v1h-1zM141 402h2v1h-2zM153 402h2v1h-2zM399 402h1v1h-1zM143 401h2v1h-2zM150 401h3v1h-3zM400 401h1v1h-1zM145 400h6v1h-6zM400 400h2v1h-2zM401 399h1v1h-1zM401 398h1v1h-1zM401 397h1v1h-1zM402 396h1v1h-1zM402 395h1v1h-1zM402 394h1v1h-1zM402 393h1v1h-1zM402 392h1v1h-1zM403 391h1v1h-1zM403 390h1v1h-1zM404 389h1v1h-1zM404 388h1v1h-1zM405 387h1v1h-1zM405 386h1v1h-1zM405 385h1v1h-1zM406 384h1v1h-1zM406 383h1v1h-1zM407 382h1v1h-1zM407 381h1v1h-1zM408 380h1v1h-1zM453 380h1v1h-1zM408 379h1v1h-1zM451 379h2v1h-2zM454 379h5v1h-5zM409 378h1v1h-1zM449 378h2v1h-2zM458 378h2v1h-2zM409 377h2v1h-2zM447 377h2v1h-2zM460 377h1v1h-1zM410 376h1v1h-1zM445 376h2v1h-2zM460 376h1v1h-1zM411 375h1v1h-1zM443 375h2v1h-2zM460 375h2v1h-2zM473 375h13v1h-13zM412 374h1v1h-1zM438 374h5v1h-5zM462 374h1v1h-1zM471 374h2v1h-2zM413 373h1v1h-1zM434 373h4v1h-4zM463 373h1v1h-1zM469 373h2v1h-2zM413 372h1v1h-1zM432 372h2v1h-2zM464 372h2v1h-2zM467 372h2v1h-2zM414 371h1v1h-1zM429 371h3v1h-3zM466 371h1v1h-1zM415 370h1v1h-1zM428 370h1v1h-1zM416 369h1v1h-1zM427 369h1v1h-1zM417 368h1v1h-1zM425 368h2v1h-2zM418 367h3v1h-3zM422 367h3v1h-3zM421 366h2v1h-2z" fill="#0000ff"/><path d="M4 426h17v1h-17zM133 426h2v1h-2zM208 426h2v1h-2zM320 426h2v1h-2zM336 426h3v1h-3zM392 426h3v1h-3zM21 427h9v1h-9zM132 427h1v1h-1zM210 427h2v1h-2zM318 427h2v1h-2zM338 427h2v1h-2zM390 427h2v1h-2zM30 428h3v1h-3zM131 428h1v1h-1zM212 428h2v1h-2zM316 428h2v1h-2zM340 428h3v1h-3zM388 428h2v1h-2zM32 429h3v1h-3zM131 429h1v1h-1zM214 429h1v1h-1zM315 429h1v1h-1zM343 429h2v1h-2zM384 429h4v1h-4zM35 430h2v1h-2zM130 430h1v1h-1zM215 430h1v1h-1zM314 430h1v1h-1zM345 430h3v1h-3zM380 430h4v1h-4zM37 431h2v1h-2zM129 431h1v1h-1zM216 431h2v1h-2zM312 431h2v1h-2zM348 431h3v1h-3zM377 431h3v1h-3zM39 432h1v1h-1zM128 432h1v1h-1zM218 432h3v1h-3zM311 432h1v1h-1zM351 432h3v1h-3zM375 432h2v1h-2zM40 433h2v1h-2zM128 433h1v1h-1zM221 433h3v1h-3zM310 433h1v1h-1zM354 433h22v1h-22zM42 434h1v1h-1zM127 434h1v1h-1zM224 434h2v1h-2zM309 434h1v1h-1zM362 434h1v1h-1zM43 435h2v1h-2zM126 435h1v1h-1zM226 435h5v1h-5zM308 435h1v1h-1zM45 436h1v1h-1zM125 436h1v1h-1zM231 436h7v1h-7zM307 436h1v1h-1zM46 437h1v1h-1zM125 437h1v1h-1zM238 437h9v1h-9zM306 437h1v1h-1zM47 438h2v1h-2zM123 438h2v1h-2zM247 438h4v1h-4zM305 438h1v1h-1zM48 439h1v1h-1zM122 439h1v1h-1zM251 439h3v1h-3zM304 439h1v1h-1zM49 440h1v1h-1zM122 440h1v1h-1zM254 440h4v1h-4zM303 440h1v1h-1zM50 441h1v1h-1zM121 441h1v1h-1zM258 441h3v1h-3zM302 441h1v1h-1zM51 442h2v1h-2zM120 442h1v1h-1zM261 442h2v1h-2zM301 442h1v1h-1zM53 443h1v1h-1zM119 443h1v1h-1zM263 443h3v1h-3zM300 443h2v1h-2zM54 444h1v1h-1zM119 444h1v1h-1zM266 444h2v1h-2zM299 444h1v1h-1zM55 445h1v1h-1zM118 445h1v1h-1zM268 445h2v1h-2zM298 445h1v1h-1zM55 446h1v1h-1zM117 446h1v1h-1zM270 446h2v1h-2zM296 446h2v1h-2zM56 447h1v1h-1zM116 447h2v1h-2zM272 447h2v1h-2zM295 447h1v1h-1zM57 448h1v1h-1zM115 448h1v1h-1zM274 448h2v1h-2zM293 448h2v1h-2zM58 449h1v1h-1zM114 449h1v1h-1zM276 449h3v1h-3zM289 449h4v1h-4zM59 450h2v1h-2zM113 450h1v1h-1zM279 450h10v1h-10zM61 451h1v1h-1zM112 451h1v1h-1zM62 452h2v1h-2zM111 452h1v1h-1zM64 453h1v1h-1zM110 453h1v1h-1zM65 454h1v1h-1zM109 454h1v1h-1zM66 455h1v1h-1zM108 455h1v1h-1zM67 456h1v1h-1zM107 456h1v1h-1zM68 457h1v1h-1zM106 457h1v1h-1zM69 458h1v1h-1zM105 458h1v1h-1zM69 459h1v1h-1zM104 459h1v1h-1zM70 460h1v1h-1zM103 460h1v1h-1zM71 461h2v1h-2zM101 461h2v1h-2zM73 462h1v1h-1zM100 462h1v1h-1zM74 463h2v1h-2zM98 463h2v1h-2zM76 464h3v1h-3zM96 464h2v1h-2zM79 465h4v1h-4zM95 465h1v1h-1zM83 466h13v1h-13zM134 425h1v1h-1zM206 425h2v1h-2zM322 425h2v1h-2zM334 425h2v1h-2zM395 425h2v1h-2zM135 424h1v1h-1zM204 424h2v1h-2zM324 424h10v1h-10zM396 424h2v1h-2zM136 423h1v1h-1zM202 423h2v1h-2zM329 423h1v1h-1zM398 423h2v1h-2zM137 422h1v1h-1zM202 422h1v1h-1zM400 422h1v1h-1zM137 421h1v1h-1zM200 421h2v1h-2zM401 421h1v1h-1zM138 420h1v1h-1zM198 420h2v1h-2zM402 420h1v1h-1zM139 419h2v1h-2zM197 419h1v1h-1zM402 419h1v1h-1zM141 418h1v1h-1zM195 418h2v1h-2zM403 418h1v1h-1zM141 417h1v1h-1zM194 417h1v1h-1zM404 417h2v1h-2zM142 416h1v1h-1zM192 416h2v1h-2zM406 416h1v1h-1zM143 415h1v1h-1zM191 415h1v1h-1zM406 415h1v1h-1zM144 414h1v1h-1zM189 414h2v1h-2zM407 414h1v1h-1zM145 413h1v1h-1zM188 413h2v1h-2zM408 413h1v1h-1zM146 412h1v1h-1zM185 412h3v1h-3zM408 412h1v1h-1zM147 411h2v1h-2zM183 411h2v1h-2zM409 411h1v1h-1zM149 410h2v1h-2zM181 410h2v1h-2zM410 410h1v1h-1zM151 409h1v1h-1zM179 409h2v1h-2zM410 409h1v1h-1zM152 408h1v1h-1zM177 408h3v1h-3zM411 408h1v1h-1zM153 407h2v1h-2zM175 407h2v1h-2zM411 407h2v1h-2zM155 406h2v1h-2zM174 406h1v1h-1zM412 406h1v1h-1zM157 405h3v1h-3zM172 405h2v1h-2zM413 405h1v1h-1zM160 404h12v1h-12zM413 404h1v1h-1zM414 403h1v1h-1zM414 402h1v1h-1zM415 401h1v1h-1zM415 400h1v1h-1zM415 399h1v1h-1zM416 398h1v1h-1zM416 397h1v1h-1zM417 396h1v1h-1zM417 395h1v1h-1zM418 394h1v1h-1zM418 393h1v1h-1zM419 392h1v1h-1zM419 391h1v1h-1zM420 390h1v1h-1zM421 389h1v1h-1zM421 388h1v1h-1zM422 387h1v1h-1zM423 386h1v1h-1zM424 385h1v1h-1zM424 384h1v1h-1zM425 383h1v1h-1zM426 382h1v1h-1zM427 381h1v1h-1zM428 380h1v1h-1zM429 379h1v1h-1zM430 378h1v1h-1zM431 377h2v1h-2zM432 376h1v1h-1zM433 375h1v1h-1zM458 375h28v1h-28zM434 374h2v1h-2zM455 374h3v1h-3zM436 373h2v1h-2zM452 373h4v1h-4zM438 372h3v1h-3zM450 372h2v1h-2zM441 371h9v1h-9z" fill="#ffff00"/></svg><defs><linearGradient id="lg1" x1="0.85" y1="0.1" x2="0.15" y2="0.9"><stop offset="0" stop-color="#ee5c1a"/><stop offset="1" stop-color="#c9281f"/></linearGradient><linearGradient id="lg2" gradientUnits="userSpaceOnUse" x1="527" y1="432" x2="527" y2="465"><stop offset="0" stop-color="#fbeaa6"/><stop offset="0.6" stop-color="#f6d067"/><stop offset="1" stop-color="#efae2c"/></linearGradient></defs><g shape-rendering="geometricPrecision"><circle cx="527" cy="446.7" r="22.8" fill="url(#lg1)"/><g fill="url(#lg2)"><circle cx="527.4" cy="438.9" r="6.6"/><circle cx="535.2" cy="445.8" r="5.7"/><circle cx="519.8" cy="446.2" r="5.6"/><circle cx="527.5" cy="447.2" r="7"/><circle cx="522" cy="442" r="4.5"/><path d="M540.8 446Q541.5 455 533 460.5Q525 464.5 515 464.5Q517.5 462 523 459.5Q529.5 456 531 451Z"/></g><path d="M523 446.2Q525.8 442.8 529.8 444Q533 446.6 531.8 451.5Q530.2 456 525 459Q521 461.3 517.5 462.3" fill="none" stroke="#d5391b" stroke-width="2.4"/></g><g shape-rendering="geometricPrecision"><polygon points="556.2,433.1 560.1,434.2 560.1,448.2 556.2,450.1" fill="#a6a6a6"/><polygon points="576,433.3 577.5,432.6 580.6,435 580.2,436.3 580.2,448.2 576,449.9" fill="#a6a6a6"/><rect x="560" y="434.2" width="16.2" height="2.1" fill="#a6a6a6"/><rect x="560" y="445.5" width="16.2" height="2.1" fill="#a6a6a6"/><polygon points="566.1,427.8 570.3,429 570.3,454 566.1,456.8" fill="#a6a6a6"/><polygon points="596.5,428.2 603.9,429.6 602.5,431.2 598,436.5 591,442 584.1,445.8 589.5,440 593.8,434" fill="#a6a6a6"/><polygon points="602.2,432.2 608,436.2 616.2,439.4 612.5,444.2 607,440 601.8,434.6" fill="#a6a6a6"/><rect x="595.8" y="439.5" width="17.2" height="1.5" fill="#a6a6a6"/><rect x="588" y="445.5" width="25" height="1.5" fill="#a6a6a6"/><rect x="585.9" y="455" width="29.3" height="1.9" fill="#a6a6a6"/><polygon points="610,453 614.6,455 609,455" fill="#a6a6a6"/><rect x="599" y="440" width="4.2" height="15" fill="#a6a6a6"/><polygon points="589,448.3 593.3,449 595.8,452.5 594,454.3 591.2,453.2" fill="#a6a6a6"/><polygon points="608.4,447 610.8,448 605.6,454.6 603.8,454.6" fill="#a6a6a6"/><polygon points="621.2,427.8 625.4,429.2 625.4,455 621.2,456.8" fill="#a6a6a6"/><rect x="625" y="429.6" width="16.5" height="2.5" fill="#a6a6a6"/><polygon points="641,429.2 643,427.6 646.4,430.5 645.2,432.1 645.2,452.9 642.5,455.6 639.2,456.1 635.7,453.2 641,452.2" fill="#a6a6a6"/><line x1="628.6" y1="433.1" x2="634.6" y2="448.3" stroke="#a6a6a6" stroke-width="3.2" stroke-linecap="butt"/><line x1="633.2" y1="434.9" x2="625.8" y2="446.2" stroke="#a6a6a6" stroke-width="2.6" stroke-linecap="butt"/><line x1="636" y1="434.2" x2="640.6" y2="444.8" stroke="#a6a6a6" stroke-width="3" stroke-linecap="butt"/><line x1="639.2" y1="435.6" x2="628.6" y2="451.8" stroke="#a6a6a6" stroke-width="3" stroke-linecap="butt"/></g><g shape-rendering="geometricPrecision"><line x1="507.5" y1="475" x2="517.5" y2="475" stroke="#9a9a9a" stroke-width="1" stroke-linecap="butt"/><line x1="507.5" y1="475" x2="507.5" y2="480" stroke="#9a9a9a" stroke-width="1" stroke-linecap="butt"/><line x1="517.5" y1="475" x2="517.5" y2="480" stroke="#9a9a9a" stroke-width="1" stroke-linecap="butt"/><line x1="507.5" y1="480" x2="517.5" y2="480" stroke="#9a9a9a" stroke-width="1" stroke-linecap="butt"/><line x1="512.5" y1="472" x2="512.5" y2="483" stroke="#9a9a9a" stroke-width="1" stroke-linecap="butt"/><line x1="533.8" y1="472" x2="534.3" y2="474" stroke="#9a9a9a" stroke-width="1" stroke-linecap="butt"/><line x1="527.8" y1="474.5" x2="539.8" y2="474.5" stroke="#9a9a9a" stroke-width="1" stroke-linecap="butt"/><line x1="530.3" y1="475" x2="537.8" y2="483" stroke="#9a9a9a" stroke-width="1" stroke-linecap="butt"/><line x1="537.3" y1="475" x2="528.8" y2="483" stroke="#9a9a9a" stroke-width="1" stroke-linecap="butt"/><line x1="548.5" y1="473" x2="548.5" y2="480" stroke="#9a9a9a" stroke-width="1" stroke-linecap="butt"/><line x1="548.5" y1="473" x2="553" y2="473" stroke="#9a9a9a" stroke-width="1" stroke-linecap="butt"/><line x1="553" y1="473" x2="553" y2="480" stroke="#9a9a9a" stroke-width="1" stroke-linecap="butt"/><line x1="548.5" y1="476" x2="553" y2="476" stroke="#9a9a9a" stroke-width="1" stroke-linecap="butt"/><line x1="548.5" y1="480" x2="553" y2="480" stroke="#9a9a9a" stroke-width="1" stroke-linecap="butt"/><line x1="550" y1="480" x2="548" y2="483" stroke="#9a9a9a" stroke-width="1" stroke-linecap="butt"/><line x1="551.5" y1="480" x2="553.5" y2="483" stroke="#9a9a9a" stroke-width="1" stroke-linecap="butt"/><line x1="554" y1="475" x2="560" y2="475" stroke="#9a9a9a" stroke-width="1" stroke-linecap="butt"/><line x1="557.5" y1="472" x2="557.5" y2="483" stroke="#9a9a9a" stroke-width="1" stroke-linecap="butt"/><line x1="557.5" y1="483" x2="556.5" y2="482.5" stroke="#9a9a9a" stroke-width="1" stroke-linecap="butt"/><line x1="557.5" y1="476" x2="554.5" y2="480" stroke="#9a9a9a" stroke-width="1" stroke-linecap="butt"/><line x1="570.3" y1="472" x2="568.3" y2="475.5" stroke="#9a9a9a" stroke-width="1" stroke-linecap="butt"/><line x1="568.3" y1="475.5" x2="571.3" y2="475.5" stroke="#9a9a9a" stroke-width="1" stroke-linecap="butt"/><line x1="571.3" y1="475.5" x2="568.3" y2="480" stroke="#9a9a9a" stroke-width="1" stroke-linecap="butt"/><line x1="568.3" y1="480" x2="572.3" y2="479" stroke="#9a9a9a" stroke-width="1" stroke-linecap="butt"/><line x1="568.8" y1="483" x2="572.3" y2="482" stroke="#9a9a9a" stroke-width="1" stroke-linecap="butt"/><line x1="573.3" y1="473" x2="579.3" y2="473" stroke="#9a9a9a" stroke-width="1" stroke-linecap="butt"/><line x1="579.3" y1="473" x2="574.3" y2="478" stroke="#9a9a9a" stroke-width="1" stroke-linecap="butt"/><line x1="574.3" y1="474.5" x2="579.8" y2="478" stroke="#9a9a9a" stroke-width="1" stroke-linecap="butt"/><line x1="574.3" y1="480" x2="580.3" y2="480" stroke="#9a9a9a" stroke-width="1" stroke-linecap="butt"/><line x1="577.3" y1="478" x2="577.3" y2="483" stroke="#9a9a9a" stroke-width="1" stroke-linecap="butt"/><line x1="573.3" y1="483" x2="580.3" y2="483" stroke="#9a9a9a" stroke-width="1" stroke-linecap="butt"/><line x1="591.6" y1="472" x2="591.6" y2="473.5" stroke="#9a9a9a" stroke-width="1" stroke-linecap="butt"/><line x1="588.6" y1="473.5" x2="594.6" y2="473.5" stroke="#9a9a9a" stroke-width="1" stroke-linecap="butt"/><line x1="589.6" y1="474" x2="590.6" y2="476" stroke="#9a9a9a" stroke-width="1" stroke-linecap="butt"/><line x1="593.6" y1="474" x2="592.6" y2="476" stroke="#9a9a9a" stroke-width="1" stroke-linecap="butt"/><line x1="588.6" y1="476.5" x2="594.6" y2="476.5" stroke="#9a9a9a" stroke-width="1" stroke-linecap="butt"/><line x1="591.6" y1="476.5" x2="591.6" y2="483" stroke="#9a9a9a" stroke-width="1" stroke-linecap="butt"/><line x1="588.6" y1="478" x2="594.6" y2="478" stroke="#9a9a9a" stroke-width="1" stroke-linecap="butt"/><line x1="589.6" y1="480" x2="588.6" y2="482" stroke="#9a9a9a" stroke-width="1" stroke-linecap="butt"/><line x1="593.6" y1="480" x2="594.6" y2="482" stroke="#9a9a9a" stroke-width="1" stroke-linecap="butt"/><line x1="599.6" y1="472" x2="596.1" y2="473.5" stroke="#9a9a9a" stroke-width="1" stroke-linecap="butt"/><line x1="596.1" y1="473.5" x2="596.1" y2="483" stroke="#9a9a9a" stroke-width="1" stroke-linecap="butt"/><line x1="596.1" y1="477" x2="600.6" y2="477" stroke="#9a9a9a" stroke-width="1" stroke-linecap="butt"/><line x1="598.6" y1="477" x2="598.6" y2="483" stroke="#9a9a9a" stroke-width="1" stroke-linecap="butt"/><line x1="610.9" y1="472" x2="609.4" y2="482" stroke="#9a9a9a" stroke-width="1" stroke-linecap="butt"/><line x1="608.9" y1="476" x2="613.9" y2="476" stroke="#9a9a9a" stroke-width="1" stroke-linecap="butt"/><line x1="612.9" y1="476" x2="609.9" y2="483" stroke="#9a9a9a" stroke-width="1" stroke-linecap="butt"/><line x1="610.4" y1="479" x2="613.9" y2="482" stroke="#9a9a9a" stroke-width="1" stroke-linecap="butt"/><line x1="614.9" y1="474" x2="620.9" y2="474" stroke="#9a9a9a" stroke-width="1" stroke-linecap="butt"/><line x1="616.4" y1="472" x2="616.4" y2="477" stroke="#9a9a9a" stroke-width="1" stroke-linecap="butt"/><line x1="619.4" y1="472" x2="619.4" y2="477" stroke="#9a9a9a" stroke-width="1" stroke-linecap="butt"/><line x1="616.4" y1="477" x2="619.4" y2="477" stroke="#9a9a9a" stroke-width="1" stroke-linecap="butt"/><line x1="614.9" y1="479" x2="620.9" y2="479" stroke="#9a9a9a" stroke-width="1" stroke-linecap="butt"/><line x1="617.9" y1="477" x2="617.9" y2="483" stroke="#9a9a9a" stroke-width="1" stroke-linecap="butt"/><line x1="617.9" y1="479" x2="614.9" y2="483" stroke="#9a9a9a" stroke-width="1" stroke-linecap="butt"/><line x1="617.9" y1="479" x2="620.9" y2="483" stroke="#9a9a9a" stroke-width="1" stroke-linecap="butt"/><line x1="632.2" y1="472" x2="629.2" y2="477" stroke="#9a9a9a" stroke-width="1" stroke-linecap="butt"/><line x1="631.2" y1="475" x2="631.2" y2="483" stroke="#9a9a9a" stroke-width="1" stroke-linecap="butt"/><line x1="633.7" y1="475.5" x2="641.2" y2="475.5" stroke="#9a9a9a" stroke-width="1" stroke-linecap="butt"/><line x1="637.7" y1="472" x2="637.7" y2="483" stroke="#9a9a9a" stroke-width="1" stroke-linecap="butt"/><line x1="637.7" y1="476" x2="634.2" y2="482" stroke="#9a9a9a" stroke-width="1" stroke-linecap="butt"/><line x1="637.7" y1="476" x2="641.2" y2="482" stroke="#9a9a9a" stroke-width="1" stroke-linecap="butt"/><line x1="635.7" y1="480.5" x2="639.7" y2="480.5" stroke="#9a9a9a" stroke-width="1" stroke-linecap="butt"/></g><rect x="4" y="3" width="614" height="1" fill="#fff"/><rect x="4" y="3" width="1" height="355" fill="#fff"/><rect x="617" y="3" width="1" height="355" fill="#fff"/><rect x="4" y="357" width="614" height="1" fill="#fff"/><rect x="4" y="359" width="614" height="1" fill="#fff"/><rect x="4" y="359" width="1" height="117" fill="#fff"/><rect x="617" y="359" width="1" height="117" fill="#fff"/><rect x="4" y="475" width="614" height="1" fill="#fff"/><rect x="618" y="24" width="2" height="1" fill="#fff"/><rect x="618" y="57" width="2" height="1" fill="#fff"/><rect x="618" y="90" width="2" height="1" fill="#fff"/><rect x="618" y="123" width="2" height="1" fill="#fff"/><rect x="618" y="156" width="2" height="1" fill="#fff"/><rect x="618" y="189" width="2" height="1" fill="#fff"/><rect x="618" y="222" width="2" height="1" fill="#fff"/><rect x="618" y="255" width="2" height="1" fill="#fff"/><rect x="618" y="288" width="2" height="1" fill="#fff"/><rect x="618" y="321" width="2" height="1" fill="#fff"/><rect x="618" y="354" width="2" height="1" fill="#fff"/><rect x="618" y="361" width="2" height="1" fill="#fff"/><rect x="618" y="412" width="2" height="1" fill="#fff"/><rect x="5" y="476" width="1" height="3" fill="#fff"/><rect x="69" y="476" width="1" height="3" fill="#fff"/><rect x="133" y="476" width="1" height="3" fill="#fff"/><rect x="197" y="476" width="1" height="3" fill="#fff"/><rect x="261" y="476" width="1" height="3" fill="#fff"/><rect x="325" y="476" width="1" height="3" fill="#fff"/><rect x="389" y="476" width="1" height="3" fill="#fff"/><rect x="453" y="476" width="1" height="3" fill="#fff"/>
<polygon points="8,10 15,10 11.5,14" fill="#fff"/>
</svg>
<div class="t" style="left:623.5px;top:19px;letter-spacing:-0.80px">1845.70</div><div class="t" style="left:623.5px;top:52px;letter-spacing:-0.80px">1821.20</div><div class="t" style="left:623.5px;top:85px;letter-spacing:-0.80px">1796.70</div><div class="t" style="left:623.5px;top:118px;letter-spacing:-0.80px">1772.90</div><div class="t" style="left:623.5px;top:151px;letter-spacing:-0.80px">1748.40</div><div class="t" style="left:623.5px;top:184px;letter-spacing:-0.80px">1724.60</div><div class="t" style="left:623.5px;top:217px;letter-spacing:-0.80px">1700.10</div><div class="t" style="left:623.5px;top:250px;letter-spacing:-0.80px">1675.60</div><div class="t" style="left:623.5px;top:283px;letter-spacing:-0.80px">1651.80</div><div class="t" style="left:623.5px;top:316px;letter-spacing:-0.80px">1627.30</div><div class="t" style="left:623.5px;top:349px;letter-spacing:-0.80px">1603.50</div><div style="position:absolute;left:619px;top:73px;width:41px;height:11px;background:#ffd700"></div><div style="position:absolute;left:619px;top:95px;width:41px;height:11px;background:#fff"></div><div style="position:absolute;left:619px;top:189px;width:41px;height:11px;background:#ffd700"></div><div style="position:absolute;left:619px;top:291px;width:41px;height:11px;background:#ffa500"></div><div class="tb" style="left:623.7px;top:73px;letter-spacing:-0.72px">1805.00</div><div class="tb" style="left:623.7px;top:95px;letter-spacing:-0.72px">1789.62</div><div class="tb" style="left:623.7px;top:189px;letter-spacing:-0.72px">1720.00</div><div class="tb" style="left:623.7px;top:291px;letter-spacing:-0.72px">1645.00</div><div class="t" style="left:556px;top:459px;letter-spacing:0.25px;color:#8e8e8e;-webkit-text-stroke:0;will-change:transform">CNGOLD.COM.CN</div><div class="t" style="left:621.0px;top:362px;letter-spacing:-0.81px">30.77</div><div class="t" style="left:621.0px;top:407px;letter-spacing:-0.38px">0.00</div><div class="t" style="left:621.2px;top:463px;letter-spacing:-0.60px">-37.969</div><div class="t" style="left:4.2px;top:479px;letter-spacing:-0.53px">24 Jun 2022</div><div class="t" style="left:68.5px;top:479px;letter-spacing:-0.58px">18 Jul 2022</div><div class="t" style="left:132.0px;top:479px;letter-spacing:-0.33px">9 Aug 2022</div><div class="t" style="left:195.9px;top:479px;letter-spacing:-0.36px">31 Aug 2022</div><div class="t" style="left:259.9px;top:479px;letter-spacing:-0.51px">22 Sep 2022</div><div class="t" style="left:324.5px;top:479px;letter-spacing:-0.45px">14 Oct 2022</div><div class="t" style="left:388.0px;top:479px;letter-spacing:-0.30px">7 Nov 2022</div><div class="t" style="left:452.2px;top:479px;letter-spacing:-0.40px">29 Nov 2022</div><div class="t" style="left:20.2px;top:6px;letter-spacing:-0.40px">XAUUSD,Daily</div><div class="t" style="left:90.9px;top:6px;letter-spacing:-0.76px">1789.10</div><div class="t" style="left:126.5px;top:6px;letter-spacing:-0.76px">1790.17</div><div class="t" style="left:162.3px;top:6px;letter-spacing:-0.76px">1789.08</div><div class="t" style="left:198.6px;top:6px;letter-spacing:-0.80px">1789.62</div><div class="t" style="left:9.4px;top:363px;letter-spacing:-0.33px">MACD(12,26,9)</div><div class="t" style="left:77.9px;top:363px;letter-spacing:-0.70px">21.937</div><div class="t" style="left:109.0px;top:363px;letter-spacing:-0.68px">21.968</div><div class="t" style="left:139.9px;top:363px;letter-spacing:-0.87px">0.000</div><div class="t" style="left:165.3px;top:363px;letter-spacing:-0.44px">-0.041</div><div class="t fib" style="left:552.0px;top:29px;letter-spacing:-0.20px">38.2 = 1833.88</div><div class="t fib" style="left:552.0px;top:128px;letter-spacing:-0.20px">50.0 = 1760.89</div><div class="t fib" style="left:552.0px;top:228px;letter-spacing:-0.20px">61.8 = 1687.89</div>
</div></body></html>
